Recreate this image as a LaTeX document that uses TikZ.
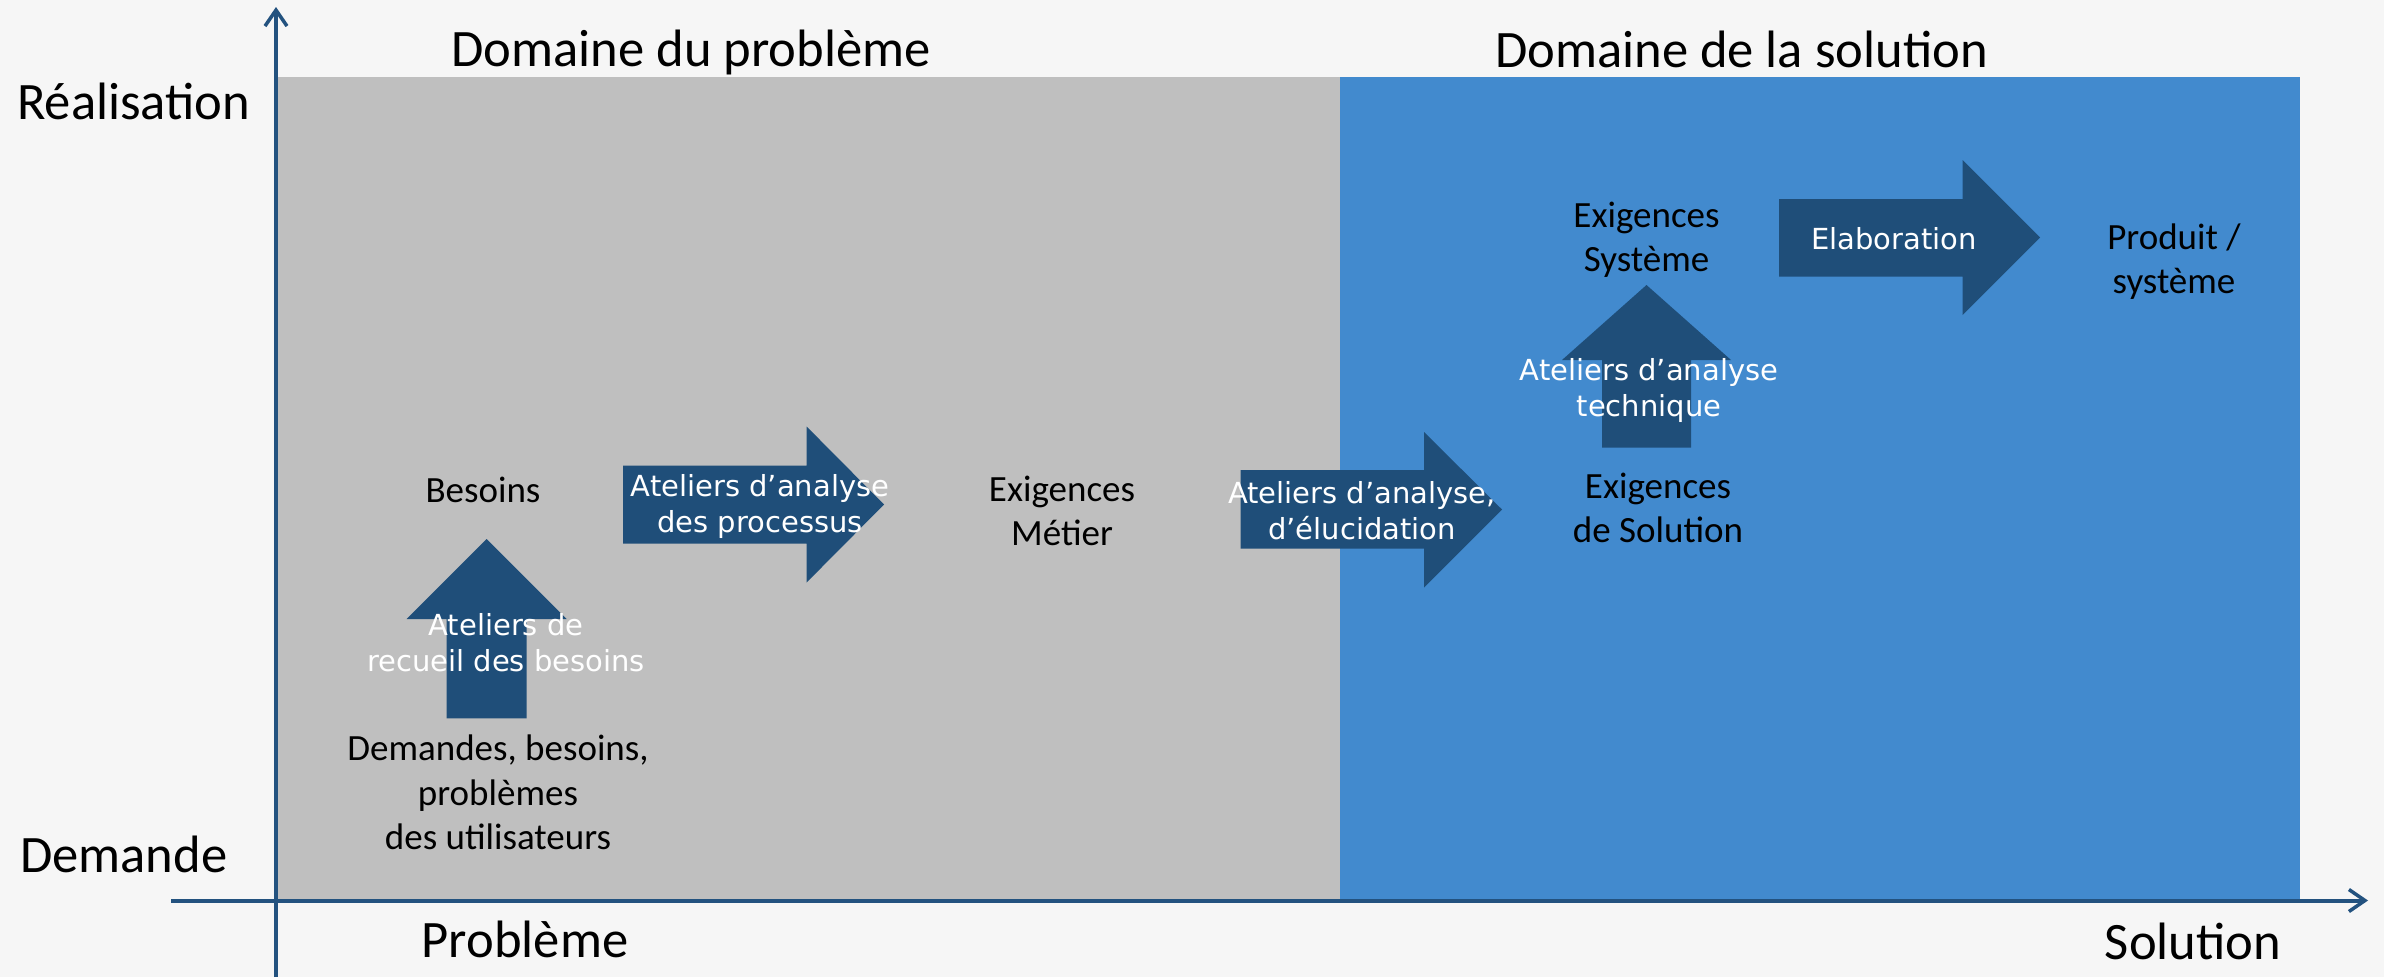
\documentclass[tikz,border=0pt]{standalone}
\usepackage{fontspec}
\setmainfont{Carlito}
\newfontfamily\wfont{DejaVu Sans}
\usetikzlibrary{arrows.meta}
\definecolor{pagebg}{HTML}{F6F6F6}
\definecolor{probgray}{HTML}{BFBFBF}
\definecolor{solblue}{HTML}{428ACE}
\definecolor{darkblue}{HTML}{1F4E79}
\definecolor{axisblue}{HTML}{23527F}
\tikzset{
  % multi-line nodes: the base anchor sits on the last line
  lbl/.style={font=\fontsize{37}{44.5}\selectfont, align=center, anchor=base, inner sep=0pt},
  wlbl/.style={font=\wfont\fontsize{29}{36.5}\selectfont, text=white, align=center, anchor=base, inner sep=0pt},
  head/.style={font=\fontsize{52.6}{62}\selectfont, anchor=base, inner sep=0pt},
  blockarrow/.style={fill=darkblue, draw=none},
  axisline/.style={draw=axisblue, line width=4pt, -{Straight Barb[length=16pt,width=22pt,line width=3.5pt]}}
}
\begin{document}
\begin{tikzpicture}[x=1pt,y=-1pt]
% page and the two domains
\fill[pagebg] (0,0) rectangle (2384,977);
\useasboundingbox (0,0) rectangle (2384,977);
\fill[probgray] (276,77) rectangle (1340,900);
\fill[solblue] (1340,77) rectangle (2300,900);

% axes
\coordinate (yfoot) at (276,977);
\coordinate (ytop) at (276,7);
\coordinate (xfoot) at (171,900.5);
\coordinate (xend) at (2368,900.5);
\draw[axisline] (yfoot) -- (ytop);
\draw[axisline] (xfoot) -- (xend);

% block arrows
\fill[blockarrow] (446.7,718.3) -- (446.7,619) -- (406.7,619) -- (486.7,539)
  -- (566.7,619) -- (526.7,619) -- (526.7,718.3) -- cycle;
\fill[blockarrow] (623,465.5) -- (806.6,465.5) -- (806.6,426.5) -- (884,504.5)
  -- (806.6,582.5) -- (806.6,543.5) -- (623,543.5) -- cycle;
\fill[blockarrow] (1240.5,470) -- (1424,470) -- (1424,432) -- (1502,509.5)
  -- (1424,587.5) -- (1424,548.5) -- (1240.5,548.5) -- cycle;
\fill[blockarrow] (1602,447.7) -- (1602,360) -- (1562,360) -- (1646.5,285)
  -- (1731,360) -- (1691,360) -- (1691,447.7) -- cycle;
\fill[blockarrow] (1779,199) -- (1962.5,199) -- (1962.5,160) -- (2040,237.5)
  -- (1962.5,315) -- (1962.5,276.6) -- (1779,276.6) -- cycle;

% domain titles and axis labels
\node[head] (domprob) at (691,66) {Domaine du problème};
\node[head] (domsol) at (1741.5,67) {Domaine de la solution};
\node[head, anchor=base west] (realis) at (17,119) {Réalisation};
\node[head, anchor=base west] (demande) at (20,872) {Demande};
\node[head] (probleme) at (525,957.5) {Problème};
\node[head] (solution) at (2193,959) {Solution};

% artefacts
\node[lbl] (demandes) at (498,849.6) {Demandes, besoins,\\problèmes\\des utilisateurs};
\node[lbl] (besoins) at (483,502) {Besoins};
\node[lbl] (exmetier) at (1062,545.5) {Exigences\\Métier};
\node[lbl] (exsolution) at (1658,542.5) {Exigences\\de Solution};
\node[lbl] (exsysteme) at (1646.5,271.5) {Exigences\\Système};
\node[lbl] (produit) at (2174,293.5) {Produit /\\système};

% workshop labels on the arrows
\node[wlbl] (recueil) at (506,671.5) {Ateliers de\\recueil des besoins};
\node[wlbl] (processus) at (760,532.5) {Ateliers d’analyse\\des processus};
\node[wlbl] (elucid) at (1362,539.5) {Ateliers d’analyse,\\d’élucidation};
\node[wlbl] (technique) at (1649,416.5) {Ateliers d’analyse\\technique};
\node[wlbl] (elabo) at (1894,249) {Elaboration};
\end{tikzpicture}
\end{document}
